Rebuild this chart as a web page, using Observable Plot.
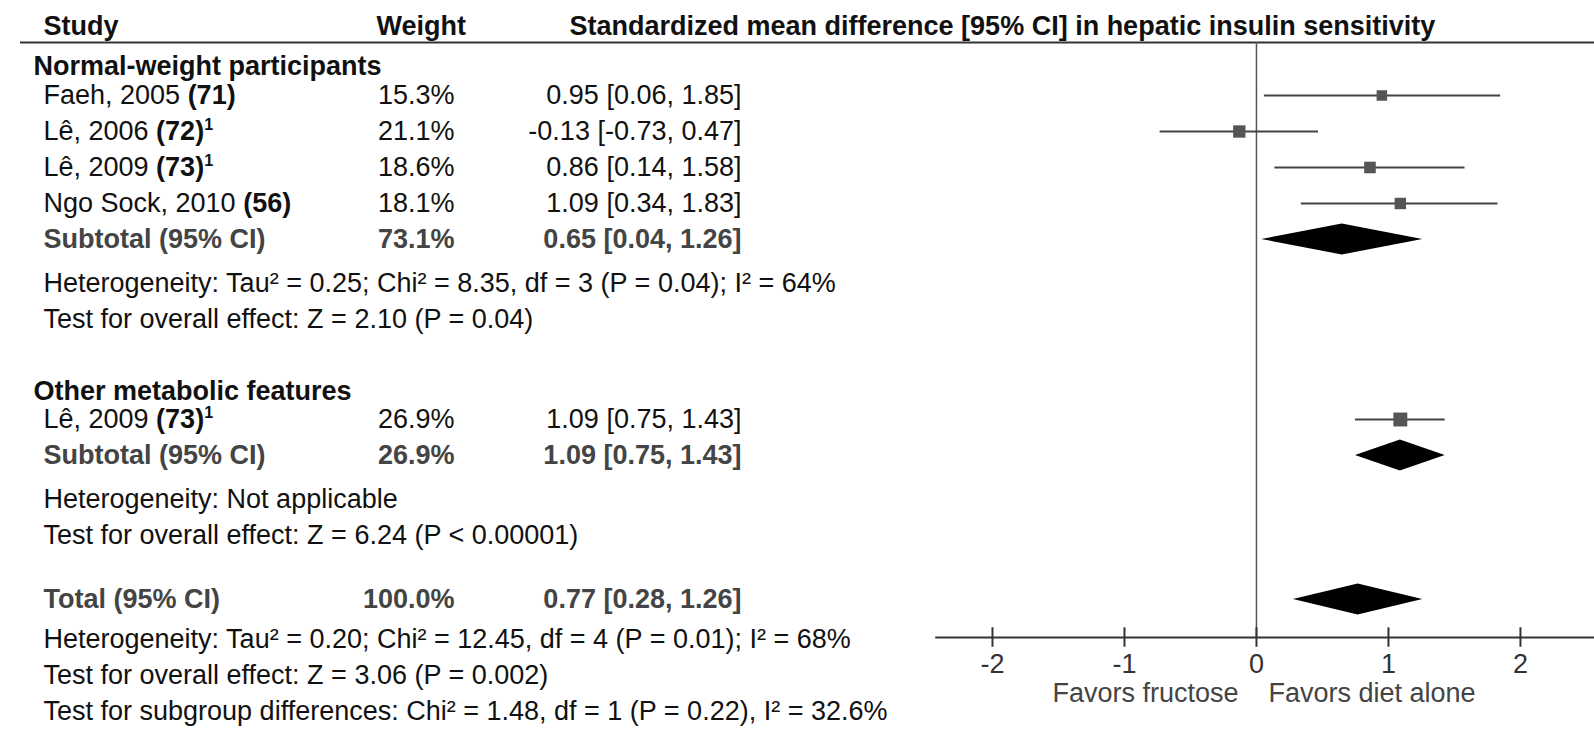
<!DOCTYPE html>
<html><head><meta charset="utf-8">
<script src="https://cdn.jsdelivr.net/npm/d3@7"></script>
<script src="https://cdn.jsdelivr.net/npm/@observablehq/plot@0.6"></script>
<style>body{margin:0;background:#fff}</style>
</head><body><div id="chart"></div>
<script>
// ---- data ----
const headerLabels = ["Study", "Weight", "Standardized mean difference [95% CI] in hepatic insulin sensitivity"];
const groupLabels = ["Normal-weight participants", "Other metabolic features"];
const groupRow = [0.2, 9.22];

const studyNames = ["Faeh, 2005", "Lê, 2006", "Lê, 2009", "Ngo Sock, 2010", "Lê, 2009"];
const studyRefs = ["(71)", "(72)", "(73)", "(56)", "(73)"];
const studySup = ["", "1", "1", "", "1"];
const studyWeight = [15.3, 21.1, 18.6, 18.1, 26.9];
const studyEst = [0.95, -0.13, 0.86, 1.09, 1.09];
const studyLo = [0.06, -0.73, 0.14, 0.34, 0.75];
const studyHi = [1.85, 0.47, 1.58, 1.83, 1.43];
const studyRow = [1, 2, 3, 4, 10];

const summaryLabels = ["Subtotal (95% CI)", "Subtotal (95% CI)", "Total (95% CI)"];
const summaryWeight = [73.1, 26.9, 100.0];
const summaryEst = [0.65, 1.09, 0.77];
const summaryLo = [0.04, 0.75, 0.28];
const summaryHi = [1.26, 1.43, 1.26];
const summaryRow = [5, 11, 15];

const noteLabels = [
  "Heterogeneity: Tau² = 0.25; Chi² = 8.35, df = 3 (P = 0.04); I² = 64%",
  "Test for overall effect: Z = 2.10 (P = 0.04)",
  "Heterogeneity: Not applicable",
  "Test for overall effect: Z = 6.24 (P < 0.00001)",
  "Heterogeneity: Tau² = 0.20; Chi² = 12.45, df = 4 (P = 0.01); I² = 68%",
  "Test for overall effect: Z = 3.06 (P = 0.002)",
  "Test for subgroup differences: Chi² = 1.48, df = 1 (P = 0.22), I² = 32.6%"
];
const noteRow = [6.22, 7.22, 12.22, 13.22, 16.12, 17.1, 18.1];

const tickValues = [-2, -1, 0, 1, 2];
const tickLabels = ["-2", "-1", "0", "1", "2"];
const favorLabels = ["Favors fructose", "Favors diet alone"];

// ---- layout ----
const headerRow = -0.93, headerLineRow = -0.472, axisRow = 16.056, favorRow = 17.61;
const xDomain = [-9.364, 2.561], yDomain = [-1.639, 16.056];
const axisStart = -2.43;
const diamondHalf = 0.43;
const FS = 27;
const font = "'Liberation Sans', Arial, Helvetica, sans-serif";
const colStudy = 23, colGroup = 13, colWeightEnd = 434, colEstEnd = 721, colWeightHead = 356, colEstHead = 549;

const studies = studyNames.map((name, i) => ({
  name, ref: studyRefs[i], sup: studySup[i], weight: studyWeight[i],
  est: studyEst[i], lo: studyLo[i], hi: studyHi[i], row: studyRow[i]
}));
const summaries = summaryLabels.map((label, i) => ({
  label, weight: summaryWeight[i], est: summaryEst[i], lo: summaryLo[i], hi: summaryHi[i], row: summaryRow[i]
}));
const groups = groupLabels.map((label, i) => ({label, row: groupRow[i]}));
const notes = noteLabels.map((label, i) => ({label, row: noteRow[i]}));
const diamondPts = summaries.flatMap((s, i) => [
  {k: i, x: s.lo, y1: s.row, y2: s.row},
  {k: i, x: s.est, y1: s.row - diamondHalf, y2: s.row + diamondHalf},
  {k: i, x: s.hi, y1: s.row, y2: s.row}
]);

const pct = v => v.toFixed(1) + "%";
const ci = d => `${d.est.toFixed(2)} [${d.lo.toFixed(2)}, ${d.hi.toFixed(2)}]`;
const studyLabel = d => d.name + " " + d.ref + d.sup;
const txt = (data, o) => Plot.text(data, {frameAnchor: "left", y: "row", fontSize: FS, ...o});

const plot = Plot.plot({
  width: 1594, height: 729,
  marginLeft: 20, marginRight: 0, marginTop: 0, marginBottom: 92,
  style: {fontFamily: font, fontSize: FS + "px", color: "#111", background: "#fff", overflow: "visible"},
  x: {domain: xDomain, label: null},
  y: {domain: yDomain, range: [0, 637], axis: null},
  r: {type: "sqrt", domain: [0, 30], range: [0, 8.3]},
  marks: [
    // header
    Plot.ruleY([headerLineRow], {stroke: "#333", strokeWidth: 2}),
    Plot.text([headerLabels[0]], {frameAnchor: "left", y: headerRow, text: d => d, dx: colStudy, textAnchor: "start", fontWeight: "bold", fontSize: FS}),
    Plot.text([headerLabels[1]], {frameAnchor: "left", y: headerRow, text: d => d, dx: colWeightHead, textAnchor: "start", fontWeight: "bold", fontSize: FS}),
    Plot.text([headerLabels[2]], {frameAnchor: "left", y: headerRow, text: d => d, dx: colEstHead, textAnchor: "start", fontWeight: "bold", fontSize: FS}),
    // groups
    txt(groups, {text: "label", dx: colGroup, textAnchor: "start", fontWeight: "bold"}),
    // studies
    txt(studies, {text: studyLabel, dx: colStudy, textAnchor: "start"}),
    txt(studies, {text: d => pct(d.weight), dx: colWeightEnd, textAnchor: "end"}),
    txt(studies, {text: ci, dx: colEstEnd, textAnchor: "end"}),
    // summaries
    txt(summaries, {text: "label", dx: colStudy, textAnchor: "start", fontWeight: "bold", fill: "#444"}),
    txt(summaries, {text: d => pct(d.weight), dx: colWeightEnd, textAnchor: "end", fontWeight: "bold", fill: "#444"}),
    txt(summaries, {text: ci, dx: colEstEnd, textAnchor: "end", fontWeight: "bold", fill: "#444"}),
    // notes
    txt(notes, {text: "label", dx: colStudy, textAnchor: "start"}),
    // zero line
    Plot.ruleX([0], {y1: headerLineRow, y2: axisRow, stroke: "#555", strokeWidth: 1.5}),
    // CIs and squares
    Plot.ruleY(studies, {y: "row", x1: "lo", x2: "hi", stroke: "#444", strokeWidth: 2}),
    Plot.dot(studies, {x: "est", y: "row", r: "weight", symbol: "square", fill: "#555", stroke: null}),
    // diamonds
    Plot.areaY(diamondPts, {x: "x", y1: "y1", y2: "y2", z: "k", fill: "#000", curve: "linear"}),
    // axis
    Plot.ruleY([axisRow], {x1: axisStart, x2: xDomain[1], stroke: "#333", strokeWidth: 2}),
    Plot.ruleX(tickValues, {x: d => d, y1: axisRow - 0.27, y2: axisRow + 0.27, stroke: "#333", strokeWidth: 2}),
    Plot.axisX({anchor: "bottom", ticks: tickValues, tickFormat: d => tickLabels[tickValues.indexOf(d)],
      tickSize: 0, tickPadding: 16, fontSize: FS, label: null, color: "#333"}),
    Plot.text([favorLabels[0]], {x: 0, y: favorRow, text: d => d, textAnchor: "end", dx: -18, fontSize: FS, fill: "#444"}),
    Plot.text([favorLabels[1]], {x: 0, y: favorRow, text: d => d, textAnchor: "start", dx: 12, fontSize: FS, fill: "#444"})
  ]
});

// rich text for study labels: bold reference numbers and superscripts
const byLabel = new Map(studies.map(d => [studyLabel(d), d]));
d3.select(plot).selectAll("text").each(function() {
  const d = byLabel.get(this.textContent);
  if (!d) return;
  const t = d3.select(this);
  t.text(null);
  t.append("tspan").text(d.name + " ");
  t.append("tspan").attr("font-weight", "bold").text(d.ref);
  if (d.sup) t.append("tspan").attr("font-weight", "bold").attr("font-size", "60%").attr("dy", "-0.6em").text(d.sup);
});

document.getElementById("chart").appendChild(plot);
</script>
</body></html>
